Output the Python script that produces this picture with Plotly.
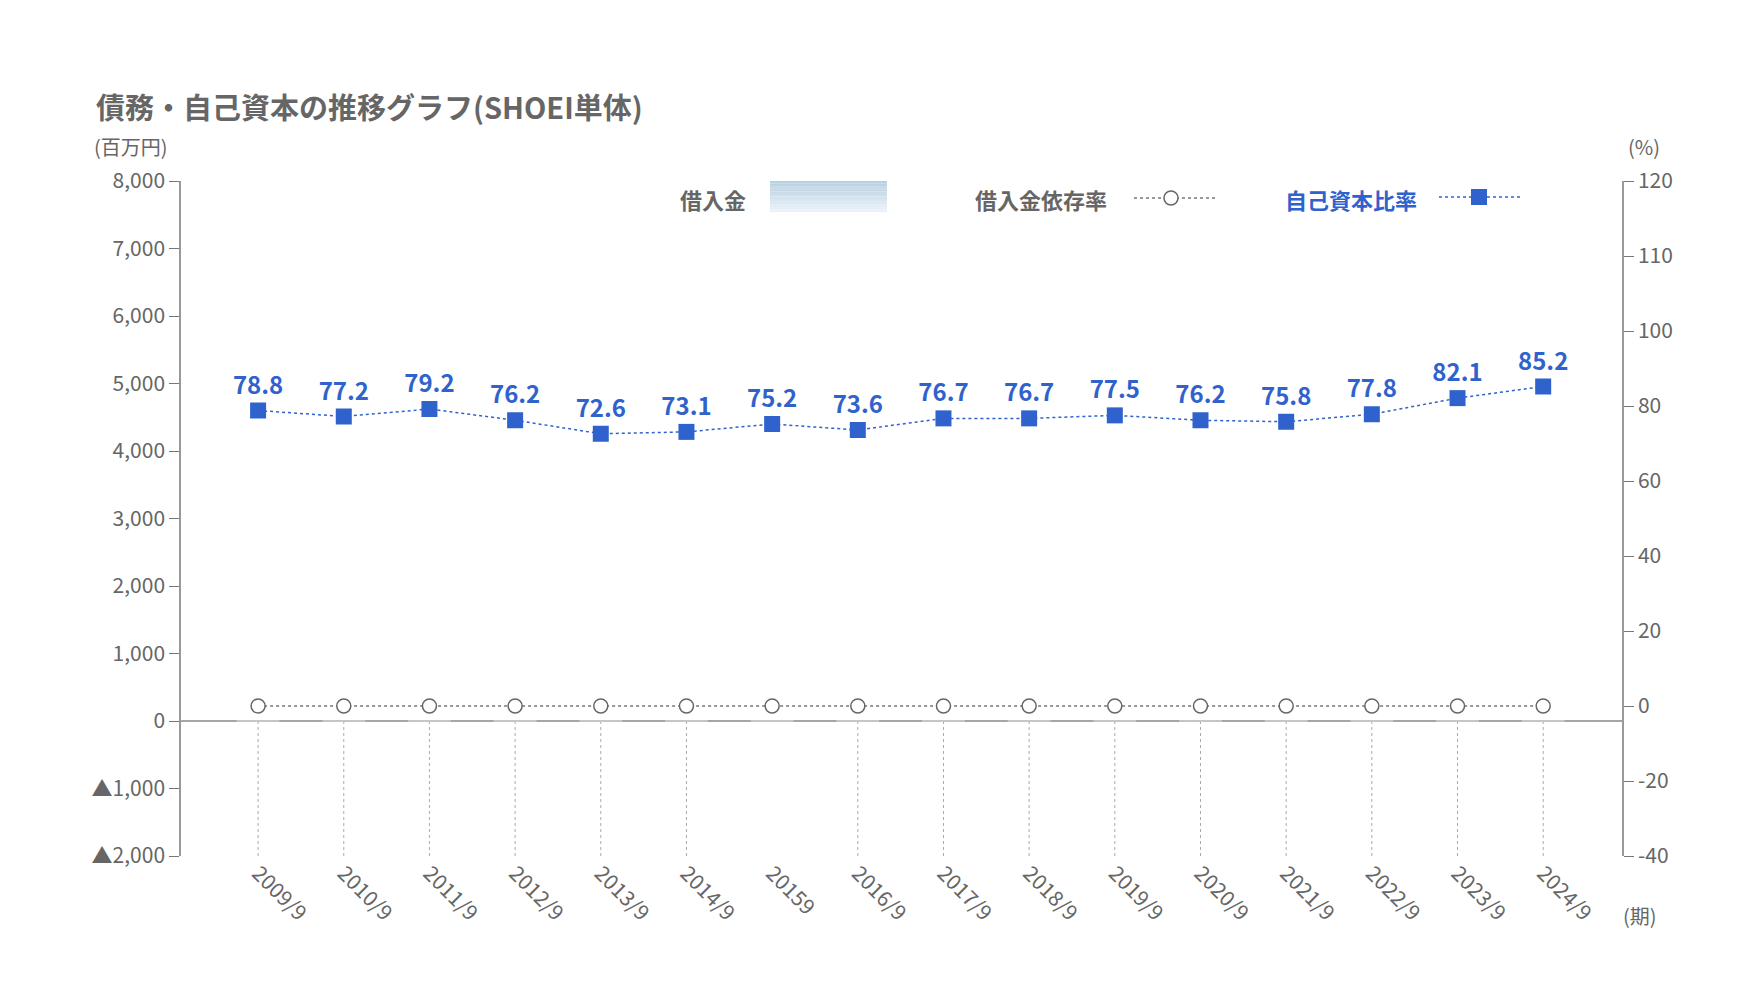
import plotly.graph_objects as go

periods = ["2009/9", "2010/9", "2011/9", "2012/9", "2013/9", "2014/9", "20159", "2016/9",
           "2017/9", "2018/9", "2019/9", "2020/9", "2021/9", "2022/9", "2023/9", "2024/9"]
borrowings = [0] * 16
borrow_ratio = [0] * 16
equity_ratio = [78.8, 77.2, 79.2, 76.2, 72.6, 73.1, 75.2, 73.6,
                76.7, 76.7, 77.5, 76.2, 75.8, 77.8, 82.1, 85.2]
left_ticks = [8000, 7000, 6000, 5000, 4000, 3000, 2000, 1000, 0, -1000, -2000]
left_labels = ["8,000", "7,000", "6,000", "5,000", "4,000", "3,000", "2,000", "1,000", "0", "▲1,000", "▲2,000"]
right_ticks = [-40, -20, 0, 20, 40, 60, 80, 100, 120, 140]
right_labels = ["-40", "-20", "0", "20", "40", "60", "80", "100", "110", "120"]

W, H = 1740, 1008
L, R, T, B = 173, 1614, 173, 848
GRAY = "#666666"
BLUE = "#2f62cc"
FONT = "Noto Sans CJK JP"


def px(x):
    return (x - L) / (R - L)


def py(y):
    return 1 - (y - T) / (B - T)


fig = go.Figure()
fig.add_trace(go.Bar(x=periods, y=borrowings, marker_color="#c9dbea", showlegend=False))
fig.add_trace(go.Scatter(x=periods, y=borrow_ratio, yaxis="y2", mode="lines+markers",
                         line=dict(color="#777777", width=1.5, dash="dot"),
                         marker=dict(symbol="circle", size=14, color="white",
                                     line=dict(color="#666666", width=1.5)),
                         showlegend=False, cliponaxis=False))
fig.add_trace(go.Scatter(x=periods, y=equity_ratio, yaxis="y2", mode="lines+markers+text",
                         line=dict(color=BLUE, width=1.5, dash="dot"),
                         marker=dict(symbol="square", size=16, color=BLUE),
                         text=[f"<b>{v:.1f}</b>" for v in equity_ratio], textposition="top center",
                         textfont=dict(color=BLUE, size=24, family=FONT),
                         showlegend=False, cliponaxis=False))

shapes = []
for p in periods:
    shapes.append(dict(type="line", xref="x", yref="y", x0=p, x1=p, y0=0, y1=-2000,
                       line=dict(color="#aaaaaa", width=1, dash="dot"), layer="below"))
shapes.append(dict(type="line", xref="paper", yref="y", x0=0, x1=1, y0=0, y1=0,
                   line=dict(color="#888888", width=1.5), layer="below"))
# legend box with vertical gradient
n = 12
top_c, bot_c = (184, 208, 227), (234, 241, 248)
for i in range(n):
    t = i / (n - 1)
    c = tuple(int(top_c[k] + (bot_c[k] - top_c[k]) * t) for k in range(3))
    y0 = 173 + (204 - 173) * i / n
    y1 = 173 + (204 - 173) * (i + 1) / n
    shapes.append(dict(type="rect", xref="paper", yref="paper", x0=px(762), x1=px(879),
                       y0=py(y0), y1=py(y1), line=dict(width=0), fillcolor=f"rgb{c}"))
shapes.append(dict(type="line", xref="paper", yref="paper", x0=px(1126), x1=px(1207),
                   y0=py(190), y1=py(190), line=dict(color="#777777", width=1.5, dash="dot")))
shapes.append(dict(type="line", xref="paper", yref="paper", x0=px(1431), x1=px(1513),
                   y0=py(189), y1=py(189), line=dict(color=BLUE, width=1.5, dash="dot")))
shapes.append(dict(type="circle", xref="paper", yref="paper", x0=px(1156), x1=px(1170),
                   y0=py(197), y1=py(183), line=dict(color="#666666", width=1.5), fillcolor="white"))
shapes.append(dict(type="rect", xref="paper", yref="paper", x0=px(1463), x1=px(1479),
                   y0=py(197), y1=py(181), line=dict(width=0), fillcolor=BLUE))

ann = [
    dict(text="<b>債務・自己資本の推移グラフ(SHOEI単体)</b>", x=px(86), y=py(98), xanchor="left",
         font=dict(size=29, color=GRAY)),
    dict(text="(百万円)", x=px(84), y=py(139), xanchor="left", font=dict(size=20, color=GRAY)),
    dict(text="(%)", x=px(1636), y=py(139), xanchor="center", font=dict(size=20, color=GRAY)),
    dict(text="(期)", x=px(1632), y=py(907), xanchor="center", font=dict(size=20, color=GRAY)),
    dict(text="<b>借入金</b>", x=px(740), y=py(191), xanchor="right", font=dict(size=22, color=GRAY)),
    dict(text="<b>借入金依存率</b>", x=px(1101), y=py(191), xanchor="right", font=dict(size=22, color=GRAY)),
    dict(text="<b>自己資本比率</b>", x=px(1411), y=py(191), xanchor="right", font=dict(size=22, color=BLUE)),
]
for a in ann:
    a.update(xref="paper", yref="paper", showarrow=False, yanchor="middle")

fig.update_layout(
    width=W, height=H, margin=dict(l=L, r=W - R, t=T, b=H - B),
    paper_bgcolor="white", plot_bgcolor="white",
    font=dict(family=FONT, color=GRAY, size=21),
    xaxis=dict(type="category", range=[-0.9, 15.92], tickangle=45, showgrid=False,
               showline=False, ticks="", tickfont=dict(size=21, color=GRAY)),
    yaxis=dict(range=[-2000, 8000], tickvals=left_ticks, ticktext=left_labels, showgrid=False,
               zeroline=False, showline=True, linecolor="#999999", linewidth=1.5,
               ticks="outside", ticklen=10, tickcolor="#777777", tickfont=dict(size=21, color=GRAY)),
    yaxis2=dict(range=[-40, 140], tickvals=right_ticks, ticktext=right_labels, overlaying="y",
                side="right", showgrid=False, zeroline=False, showline=True, linecolor="#999999",
                linewidth=1.5, ticks="outside", ticklen=10, tickcolor="#777777",
                tickfont=dict(size=21, color=GRAY)),
    shapes=shapes, annotations=ann, bargap=0.5,
)

fig.write_html("out.html")
